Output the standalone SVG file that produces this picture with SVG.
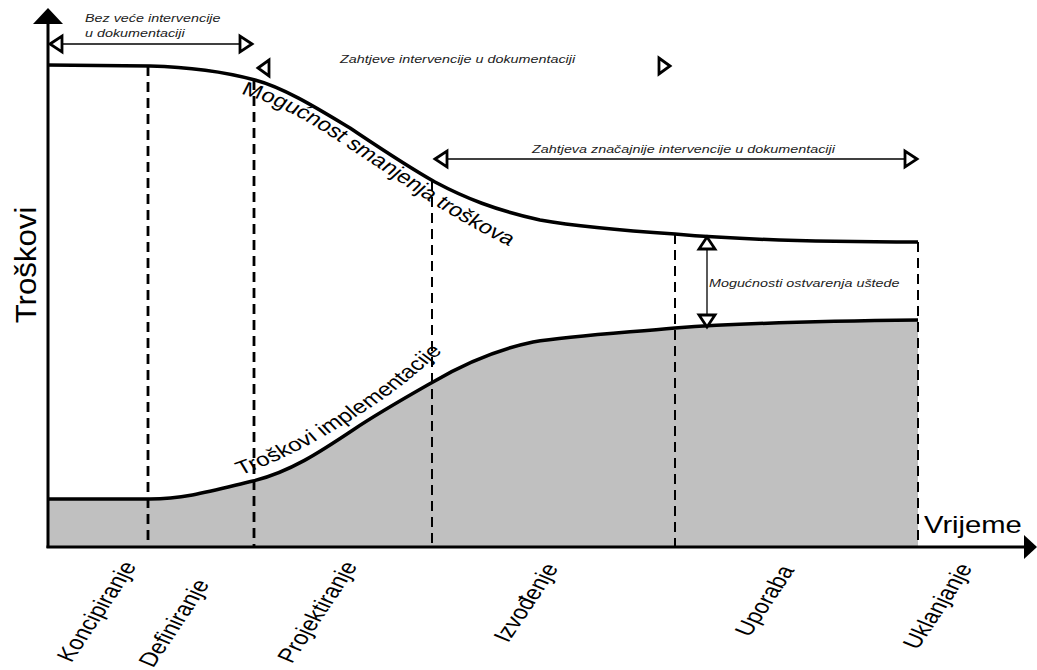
<svg xmlns="http://www.w3.org/2000/svg" xmlns:xlink="http://www.w3.org/1999/xlink" width="1037" height="670" viewBox="0 0 1037 670">
<style>
.axis{stroke:#000;stroke-width:3;fill:none}
.curve{stroke:#000;stroke-width:3.5;fill:none;stroke-linejoin:round}
.dash{stroke:#000;stroke-width:2.8;stroke-dasharray:10,6;fill:none}
.dash2{stroke:#000;stroke-width:2;stroke-dasharray:10,6;fill:none}
.tri{fill:#fff;stroke:#000;stroke-width:2.8;stroke-linejoin:miter}
.ln{stroke:#000;stroke-width:1.3;fill:none}
.it{font-family:"Liberation Sans",Arial,sans-serif;font-style:italic;font-size:11.3px;fill:#222}
.lb{font-family:"Liberation Sans",Arial,sans-serif;font-size:20px;fill:#000}
.cv{font-family:"Liberation Sans",Arial,sans-serif;font-size:19px;fill:#000}
</style>
<defs>
<path id="pTop" d="M187.4,93 C228.3,106 259.8,136 299.2,169 S362.2,223 405.5,249"/>
<path id="pBot" d="M187.4,476 C228.3,458 259.8,434 291.3,408 S330.7,368 355.9,345"/>
</defs>
<rect width="1037" height="670" fill="#fff"/>
<g id="area">
<path fill="#c0c0c0" d="M47,499 L150,499 C185,499 215,490 253,481 C290,472 320,452 353,430 C380,412 405,398 433,382 C460,366 495,350 533,342 C570,336 620,333 675,328 C730,324 820,321 918,320 L918,547 L47,547 Z"/>
</g>
<g id="phase-lines">
<line class="dash" x1="148" y1="66" x2="148" y2="547"/>
<line class="dash" x1="254" y1="80" x2="254" y2="547"/>
<line class="dash2" x1="432" y1="181" x2="432" y2="547"/>
<line class="dash2" x1="675" y1="234" x2="675" y2="547"/>
<line class="dash2" x1="918" y1="242" x2="918" y2="547"/>
</g>
<g id="curve-top">
<path class="curve" d="M47,65 L150,66 C190,67 225,72 255,80 C285,88 320,110 350,128 C380,148 405,165 435,182 C465,198 495,210 540,220 C580,227 630,231 675,234 C720,238 800,242 918,242"/>
<g transform="scale(1.27,1)"><text class="cv"><textPath xlink:href="#pTop" href="#pTop" startOffset="2">Mogućnost smanjenja troškova</textPath></text></g>
</g>
<g id="curve-bottom">
<path class="curve" d="M47,499 L150,499 C185,499 215,490 253,481 C290,472 320,452 353,430 C380,412 405,398 433,382 C460,366 495,350 533,342 C570,336 620,333 675,328 C730,324 820,321 918,320"/>
<g transform="scale(1.27,1)"><text class="cv"><textPath xlink:href="#pBot" href="#pBot" startOffset="2">Troškovi implementacije</textPath></text></g>
</g>
<g id="axes">
<line class="axis" x1="48" y1="22" x2="48" y2="548"/>
<polygon points="48,8 33,24 63,24" fill="#000"/>
<line class="axis" x1="46.5" y1="547" x2="1026" y2="547"/>
<polygon points="1037,547 1024,535 1024,559" fill="#000"/>
<text class="lb" transform="translate(36,265) scale(1.15,1.2) rotate(-90)" text-anchor="middle" style="font-size:26px">Troškovi</text>
<text class="lb" transform="translate(924,533) scale(1.27,1)" style="font-size:23px">Vrijeme</text>
</g>
<g id="connectors">
<g id="arrow-bez">
<line class="ln" x1="60" y1="44" x2="242" y2="44"/>
<polygon class="tri" points="50,44 62,36 62,52"/>
<polygon class="tri" points="252,44 240,36 240,52"/>
</g>
<g id="arrow-zahtjeve">
<polygon class="tri" points="258,68 269,60 269,76"/>
<polygon class="tri" points="670,66 659,58 659,74"/>
</g>
<g id="arrow-znacajnije">
<line class="ln" x1="445" y1="159" x2="907" y2="159"/>
<polygon class="tri" points="435,159 447,151 447,167"/>
<polygon class="tri" points="917,159 905,151 905,167"/>
</g>
<g id="arrow-usteda">
<line class="ln" x1="707" y1="248" x2="707" y2="316"/>
<polygon class="tri" points="707,237 699,249 715,249"/>
<polygon class="tri" points="707,327 699,315 715,315"/>
</g>
</g>
<g id="label-bez">
<text class="it" transform="translate(85,22) scale(1.27,1)">Bez veće intervencije</text>
<text class="it" transform="translate(85,37) scale(1.27,1)">u dokumentaciji</text>
</g>
<g id="label-zahtjeve">
<text class="it" transform="translate(340,63) scale(1.27,1)">Zahtjeve intervencije u dokumentaciji</text>
</g>
<g id="label-znacajnije">
<text class="it" transform="translate(532,153) scale(1.27,1)">Zahtjeva značajnije intervencije u dokumentaciji</text>
</g>
<g id="label-usteda">
<text class="it" transform="translate(709,287) scale(1.27,1)">Mogućnosti ostvarenja uštede</text>
</g>
<g id="phases">
<text class="lb" text-anchor="end" transform="translate(137,566) scale(1.27,1) rotate(-62)">Koncipiranje</text>
<text class="lb" text-anchor="end" transform="translate(210,584) scale(1.27,1) rotate(-62)">Definiranje</text>
<text class="lb" text-anchor="end" transform="translate(358,566) scale(1.27,1) rotate(-62)">Projektiranje</text>
<text class="lb" text-anchor="end" transform="translate(559,568) scale(1.27,1) rotate(-62)">Izvođenje</text>
<text class="lb" text-anchor="end" transform="translate(795,570) scale(1.27,1) rotate(-62)">Uporaba</text>
<text class="lb" text-anchor="end" transform="translate(973,568) scale(1.27,1) rotate(-62)">Uklanjanje</text>
</g>
</svg>
